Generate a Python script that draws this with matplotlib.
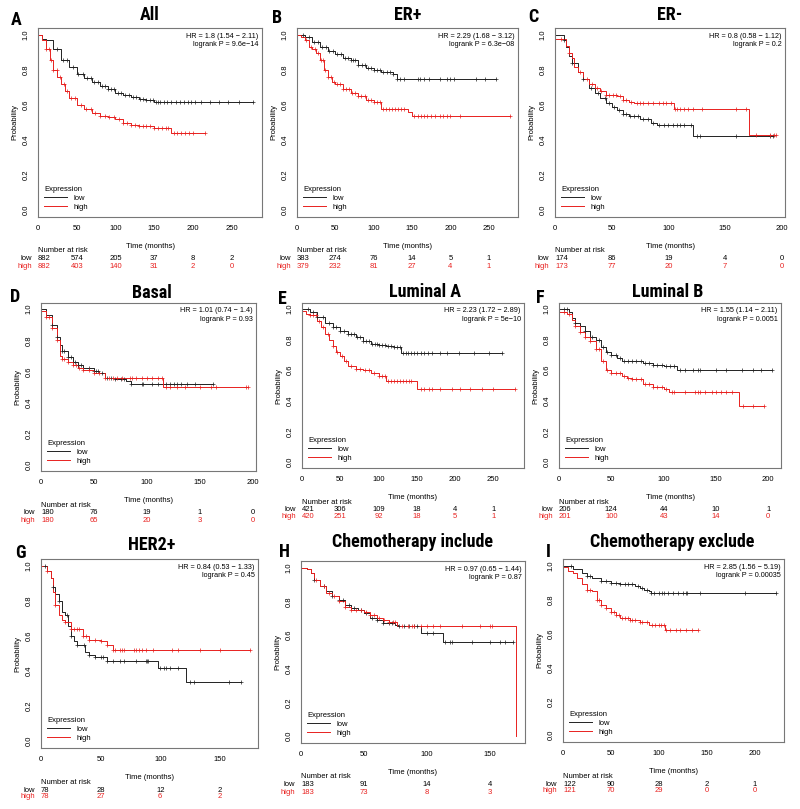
import numpy as np
import matplotlib
matplotlib.use("Agg")
from matplotlib import pyplot as plt
from matplotlib import transforms
from matplotlib import font_manager

plt.rcParams['font.family'] = ['Liberation Sans', 'DejaVu Sans']

# ---- data ----
panel_letters = ["A", "B", "C", "D", "E", "F", "G", "H", "I"]
panel_titles = ["All", "ER+", "ER-", "Basal", "Luminal A", "Luminal B",
                "HER2+", "Chemotherapy include", "Chemotherapy exclude"]
hr_text = ["HR = 1.8 (1.54 \u2212 2.11)", "HR = 2.29 (1.68 \u2212 3.12)", "HR = 0.8 (0.58 \u2212 1.12)",
           "HR = 1.01 (0.74 \u2212 1.4)", "HR = 2.23 (1.72 \u2212 2.89)", "HR = 1.55 (1.14 \u2212 2.11)",
           "HR = 0.84 (0.53 \u2212 1.33)", "HR = 0.97 (0.65 \u2212 1.44)", "HR = 2.85 (1.56 \u2212 5.19)"]
p_text = ["logrank P = 9.6e\u221214", "logrank P = 6.3e\u221208", "logrank P = 0.2",
          "logrank P = 0.93", "logrank P = 5e\u221210", "logrank P = 0.0051",
          "logrank P = 0.45", "logrank P = 0.87", "logrank P = 0.00035"]

# step curves: (times, survival) for low and high expression
low_t = [
    [0, 5, 10, 20, 30, 40, 50, 60, 70, 80, 90, 100, 110, 120, 130, 140, 150, 278],
    [0, 10, 20, 30, 40, 50, 60, 70, 75, 80, 90, 100, 110, 125, 130, 260],
    [0, 8, 10, 12, 15, 20, 25, 30, 35, 40, 45, 50, 55, 60, 65, 75, 85, 90, 122, 192],
    [0, 5, 10, 15, 18, 20, 25, 30, 35, 40, 50, 55, 60, 70, 80, 85, 162],
    [0, 10, 20, 30, 40, 50, 60, 70, 80, 90, 100, 110, 120, 130, 262],
    [0, 10, 12, 15, 20, 25, 30, 35, 40, 45, 50, 55, 60, 80, 90, 100, 113, 204],
    [0, 5, 8, 10, 12, 15, 18, 20, 23, 25, 28, 30, 37, 40, 45, 55, 98, 122, 168],
    [0, 5, 8, 10, 15, 20, 25, 30, 35, 40, 45, 50, 55, 60, 65, 75, 77, 95, 113, 168],
    [0, 10, 20, 25, 30, 40, 50, 60, 75, 80, 85, 90, 92, 222],
]
low_s = [
    [1.0, 0.98, 0.97, 0.92, 0.86, 0.82, 0.78, 0.755, 0.73, 0.71, 0.69, 0.67, 0.66, 0.645, 0.635, 0.63, 0.615, 0.615],
    [1.0, 0.99, 0.96, 0.93, 0.91, 0.89, 0.87, 0.86, 0.855, 0.83, 0.81, 0.80, 0.79, 0.78, 0.75, 0.75],
    [1.0, 0.97, 0.93, 0.88, 0.84, 0.79, 0.75, 0.70, 0.67, 0.64, 0.61, 0.59, 0.57, 0.55, 0.535, 0.52, 0.50, 0.485, 0.425, 0.425],
    [1.0, 0.96, 0.90, 0.82, 0.77, 0.73, 0.69, 0.66, 0.64, 0.62, 0.60, 0.59, 0.56, 0.55, 0.54, 0.52, 0.52],
    [1.0, 0.98, 0.95, 0.91, 0.88, 0.86, 0.84, 0.82, 0.79, 0.77, 0.765, 0.76, 0.75, 0.71, 0.71],
    [1.0, 0.98, 0.94, 0.91, 0.89, 0.86, 0.82, 0.80, 0.75, 0.72, 0.70, 0.68, 0.66, 0.645, 0.635, 0.625, 0.60, 0.60],
    [1.0, 0.97, 0.93, 0.88, 0.84, 0.80, 0.74, 0.72, 0.66, 0.60, 0.57, 0.55, 0.51, 0.49, 0.48, 0.46, 0.42, 0.34, 0.34],
    [1.0, 0.99, 0.97, 0.93, 0.89, 0.86, 0.83, 0.81, 0.78, 0.76, 0.75, 0.73, 0.70, 0.69, 0.67, 0.66, 0.655, 0.615, 0.56, 0.56],
    [1.0, 0.98, 0.96, 0.94, 0.93, 0.91, 0.90, 0.89, 0.88, 0.87, 0.86, 0.85, 0.84, 0.84],
]
high_t = [
    [0, 5, 10, 15, 20, 25, 30, 35, 40, 50, 60, 70, 80, 90, 100, 110, 120, 130, 150, 172, 215],
    [0, 5, 10, 15, 20, 25, 30, 35, 40, 45, 50, 60, 70, 80, 90, 100, 110, 145, 150, 277],
    [0, 10, 12, 15, 17, 20, 25, 30, 35, 40, 45, 55, 60, 65, 70, 105, 171, 195],
    [0, 5, 10, 15, 18, 20, 25, 30, 35, 40, 50, 60, 115, 195],
    [0, 5, 10, 20, 25, 30, 35, 40, 45, 50, 55, 60, 70, 80, 90, 100, 110, 150, 279],
    [0, 8, 12, 15, 20, 25, 30, 35, 40, 45, 50, 60, 65, 70, 80, 90, 100, 105, 172, 196],
    [0, 5, 8, 10, 12, 15, 18, 20, 25, 35, 40, 50, 55, 60, 175],
    [0, 5, 8, 10, 15, 20, 25, 30, 35, 40, 50, 55, 60, 65, 70, 76, 171],
    [0, 5, 10, 15, 20, 25, 30, 35, 40, 45, 50, 55, 60, 70, 80, 90, 107, 141],
]
high_s = [
    [1.0, 0.97, 0.92, 0.86, 0.80, 0.76, 0.72, 0.68, 0.64, 0.60, 0.575, 0.555, 0.54, 0.53, 0.52, 0.50, 0.485, 0.48, 0.47, 0.44, 0.44],
    [1.0, 0.99, 0.97, 0.93, 0.92, 0.90, 0.86, 0.80, 0.76, 0.73, 0.72, 0.69, 0.67, 0.65, 0.63, 0.615, 0.58, 0.56, 0.54, 0.54],
    [0.98, 0.94, 0.90, 0.87, 0.82, 0.79, 0.75, 0.72, 0.70, 0.68, 0.66, 0.65, 0.63, 0.62, 0.61, 0.58, 0.43, 0.43],
    [0.99, 0.95, 0.88, 0.80, 0.70, 0.68, 0.66, 0.64, 0.62, 0.61, 0.59, 0.56, 0.50, 0.50],
    [0.99, 0.97, 0.96, 0.92, 0.88, 0.84, 0.80, 0.76, 0.72, 0.69, 0.66, 0.63, 0.61, 0.60, 0.58, 0.56, 0.53, 0.475, 0.475],
    [0.98, 0.97, 0.93, 0.89, 0.85, 0.82, 0.79, 0.74, 0.66, 0.60, 0.58, 0.56, 0.55, 0.54, 0.51, 0.49, 0.48, 0.455, 0.365, 0.365],
    [1.0, 0.97, 0.93, 0.85, 0.78, 0.72, 0.69, 0.68, 0.64, 0.60, 0.58, 0.57, 0.55, 0.52, 0.52],
    [1.0, 0.99, 0.97, 0.93, 0.89, 0.85, 0.83, 0.80, 0.77, 0.75, 0.74, 0.72, 0.70, 0.69, 0.68, 0.655, 0.0],
    [0.99, 0.97, 0.96, 0.93, 0.89, 0.86, 0.85, 0.80, 0.77, 0.75, 0.73, 0.71, 0.69, 0.68, 0.67, 0.65, 0.62, 0.62],
]

# censoring times
low_cens = [
    [25, 32, 38, 45, 52, 58, 63, 68, 72, 77, 82, 86, 90, 94, 98, 103, 107, 112, 117, 122, 127, 132, 136, 140,
     144, 148, 152, 155, 158, 162, 167, 172, 178, 183, 188, 193, 197, 203, 210, 222, 233, 245, 260, 277],
    [8, 15, 22, 28, 33, 38, 42, 47, 52, 57, 62, 67, 70, 73, 76, 80, 85, 88, 92, 96, 100, 104, 108, 112, 117,
     121, 125, 131, 134, 140, 158, 160, 165, 172, 186, 195, 200, 205, 233, 245, 260],
    [8, 15, 25, 32, 38, 44, 48, 52, 56, 60, 63, 66, 70, 73, 78, 82, 86, 92, 96, 100, 104, 108, 110, 114, 120,
     125, 128, 160, 190, 192],
    [10, 15, 20, 22, 25, 28, 32, 35, 38, 45, 50, 52, 54, 58, 62, 66, 70, 75, 78, 85, 95, 96, 105, 110, 118,
     122, 125, 128, 132, 138, 145, 162],
    [8, 14, 20, 28, 35, 40, 45, 50, 55, 60, 64, 68, 72, 76, 80, 84, 88, 92, 96, 98, 100, 104, 108, 112, 116,
     120, 124, 128, 132, 136, 138, 142, 146, 150, 155, 160, 165, 170, 180, 190, 205, 225, 245, 262],
    [5, 8, 15, 25, 32, 38, 42, 46, 50, 54, 58, 62, 66, 70, 74, 78, 82, 86, 90, 94, 98, 102, 106, 110, 116,
     120, 128, 133, 135, 150, 160, 175, 185, 193, 204],
    [3, 10, 15, 22, 25, 30, 36, 40, 45, 50, 52, 55, 60, 66, 70, 80, 88, 89, 90, 100, 103, 105, 108, 115,
     125, 128, 158, 168],
    [10, 18, 25, 30, 33, 38, 42, 48, 52, 56, 60, 65, 70, 72, 78, 82, 86, 90, 92, 100, 105, 114, 118, 120,
     136, 150, 158, 162, 168],
    [8, 25, 28, 40, 45, 50, 55, 60, 65, 68, 72, 78, 83, 88, 92, 95, 100, 103, 106, 110, 115, 120, 125, 128,
     130, 143, 190, 222],
]
high_cens = [
    [10, 14, 17, 20, 24, 28, 33, 38, 43, 48, 55, 62, 68, 74, 80, 86, 92, 98, 104, 110, 115, 120, 125, 130,
     135, 140, 145, 150, 155, 160, 165, 168, 175, 180, 185, 190, 195, 200, 215],
    [12, 18, 24, 28, 31, 34, 37, 40, 44, 48, 52, 56, 60, 64, 68, 72, 76, 80, 84, 88, 92, 96, 100, 104, 108,
     112, 116, 120, 124, 128, 132, 136, 140, 153, 158, 162, 166, 170, 175, 180, 186, 190, 195, 200, 213, 277],
    [5, 12, 22, 28, 33, 37, 41, 45, 48, 51, 54, 57, 60, 63, 67, 72, 75, 78, 82, 86, 92, 95, 98, 102, 106,
     108, 110, 114, 117, 122, 130, 160, 168, 177, 190, 193, 195],
    [5, 8, 10, 15, 20, 22, 25, 30, 33, 36, 40, 45, 50, 55, 60, 64, 68, 72, 76, 84, 86, 90, 95, 100, 105,
     110, 114, 118, 122, 128, 136, 150, 160, 165, 193, 195],
    [10, 14, 18, 22, 28, 34, 40, 46, 52, 58, 64, 70, 76, 82, 88, 94, 100, 104, 108, 112, 116, 120, 124,
     128, 132, 136, 140, 143, 155, 160, 166, 170, 180, 196, 206, 220, 235, 250, 279],
    [5, 10, 15, 20, 25, 30, 35, 38, 42, 46, 50, 54, 58, 62, 66, 70, 74, 78, 82, 86, 90, 94, 98, 102, 108,
     110, 120, 130, 133, 135, 140, 146, 150, 155, 160, 165, 176, 185, 196],
    [5, 12, 20, 25, 28, 30, 32, 35, 38, 40, 45, 50, 55, 60, 62, 66, 68, 70, 78, 80, 82, 85, 88, 94, 110,
     115, 133, 150, 175],
    [12, 18, 22, 26, 30, 35, 40, 44, 48, 52, 55, 58, 62, 66, 70, 73, 75, 80, 85, 88, 90, 95, 100, 105, 110,
     128, 142, 150, 152],
    [25, 28, 35, 38, 40, 45, 50, 53, 55, 58, 62, 65, 68, 70, 72, 75, 80, 83, 88, 93, 96, 100, 102, 105,
     108, 112, 118, 122, 128, 135, 141],
]

# number at risk
risk_low = [[882, 574, 205, 37, 8, 2], [383, 274, 76, 14, 5, 1], [174, 86, 19, 4, 0],
            [180, 76, 19, 1, 0], [421, 306, 109, 18, 4, 1], [206, 124, 44, 10, 1],
            [78, 28, 12, 2], [183, 91, 14, 4], [122, 90, 28, 2, 1]]
risk_high = [[882, 403, 140, 31, 2, 0], [379, 232, 81, 27, 4, 1], [173, 77, 20, 7, 0],
             [180, 65, 20, 3, 0], [420, 251, 92, 18, 5, 1], [201, 100, 43, 14, 0],
             [78, 27, 6, 2], [183, 73, 8, 3], [121, 70, 29, 0, 0]]

# ---- layout (pixel boxes: left, right, top, bottom) ----
W, H = 800, 809
boxes = [(38, 262, 28, 217), (297, 518, 28, 217), (555, 785, 28, 217),
         (41, 256, 303, 471), (302, 524, 303, 468), (559, 781, 303, 468),
         (41, 258, 559, 748), (301, 525, 561, 743), (563, 784, 559, 742)]
title_pos = [(150, 15), (408, 15), (670, 15), (152, 293), (425, 292), (668, 292),
             (152, 545), (413, 542), (672, 542)]
letter_pos = [(16, 20), (277, 18), (533, 17), (15, 297), (282, 299), (540, 298),
              (20, 553), (284, 552), (548, 552)]

RED = "#e8211f"
GREY = "#222222"

# condensed bold face for titles, if one is installed
names = {f.name for f in font_manager.fontManager.ttflist}
narrow = [n for n in ["Liberation Sans Narrow", "Roboto Condensed", "Open Sans Condensed",
                      "DejaVu Sans Condensed"] if n in names]
title_font = dict(family=narrow + ["DejaVu Sans"], fontweight="bold",
                  fontstretch="condensed", fontsize=13 if narrow else 11.5)

fig = plt.figure(figsize=(8, 8.09), dpi=100)


def step_value(t, times, surv):
    idx = np.searchsorted(times, t, side="right") - 1
    return np.asarray(surv)[idx]


for i in range(9):
    l, r, t, b = boxes[i]
    ax = fig.add_axes([l / W, 1 - b / H, (r - l) / W, (b - t) / H])
    xmax = 1.04 * max(low_t[i][-1], high_t[i][-1])

    ax.plot(low_t[i], low_s[i], drawstyle="steps-post", color=GREY, lw=0.7, label="low")
    ax.plot(high_t[i], high_s[i], drawstyle="steps-post", color=RED, lw=0.7, label="high")
    lc = np.array(low_cens[i])
    hc = np.array(high_cens[i])
    ax.plot(lc, step_value(lc, low_t[i], low_s[i]), ls="none", marker="+",
            ms=3.2, mew=0.5, color=GREY)
    ax.plot(hc, step_value(hc, high_t[i], high_s[i]), ls="none", marker="+",
            ms=3.2, mew=0.5, color=RED)

    ax.set_xlim(0, xmax)
    ax.set_ylim(-0.04, 1.04)
    ax.set_xticks(np.arange(0, xmax, 50))
    ax.set_yticks([0, 0.2, 0.4, 0.6, 0.8, 1.0])
    ax.set_yticklabels(["0.0", "0.2", "0.4", "0.6", "0.8", "1.0"], rotation=90, va="center")
    ax.tick_params(labelsize=5.5, length=0, pad=6)
    for s in ax.spines.values():
        s.set_color("#777777")
        s.set_linewidth(0.8)
    ax.set_xlabel("Time (months)", fontsize=5.5, labelpad=8)
    ax.set_ylabel("Probability", fontsize=5.5, labelpad=3)

    ax.text(0.985, 0.975, hr_text[i] + "\n" + p_text[i], transform=ax.transAxes,
            ha="right", va="top", fontsize=5.2, linespacing=1.3)

    ax.legend(title="Expression", loc="lower left", frameon=False, fontsize=5.5,
              title_fontsize=5.5, alignment="left", handlelength=3,
              borderaxespad=0.4, labelspacing=0.2)

    # number at risk table
    tr = transforms.blended_transform_factory(ax.transData, fig.transFigure)
    times = np.arange(len(risk_low[i])) * 50
    fig.text(l / W, 1 - (b + 34) / H, "Number at risk", fontsize=5.5, ha="left", va="center")
    y_low = 1 - (b + 42) / H
    y_high = 1 - (b + 49) / H
    fig.text((l - 6) / W, y_low, "low", fontsize=5.5, ha="right", va="center")
    fig.text((l - 6) / W, y_high, "high", fontsize=5.5, ha="right", va="center", color=RED)
    for k, x in enumerate(times):
        ax.text(x, y_low, str(risk_low[i][k]), transform=tr, fontsize=5.5,
                ha="left" if k == 0 else "center", va="center", clip_on=False)
        ax.text(x, y_high, str(risk_high[i][k]), transform=tr, fontsize=5.5, color=RED,
                ha="left" if k == 0 else "center", va="center", clip_on=False)

    tx, ty = title_pos[i]
    fig.text(tx / W, 1 - ty / H, panel_titles[i], ha="center", va="center", **title_font)
    lx, ly = letter_pos[i]
    fig.text(lx / W, 1 - ly / H, panel_letters[i], ha="center", va="center", **title_font)

fig.savefig("out.png", dpi=100)
